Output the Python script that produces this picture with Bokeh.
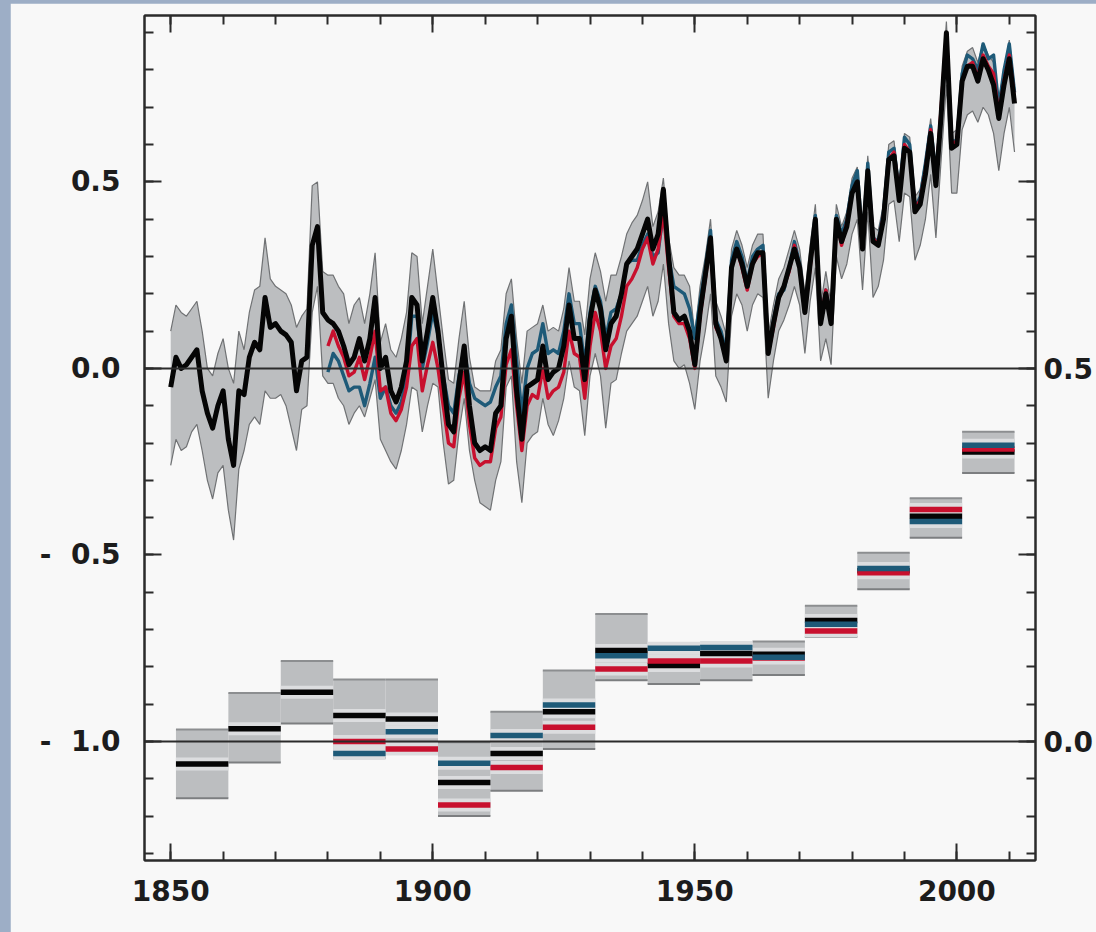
from bokeh.plotting import figure
from bokeh.models import Range1d, LinearAxis, FixedTicker, Span
from bokeh.embed import file_html
from bokeh.resources import INLINE

# ---------------- annual anomalies (left axis units) ----------------
years = list(range(1850, 2012))
black = [
    -0.05, 0.03, 0.00, 0.01, 0.03, 0.05, -0.06, -0.12, -0.16, -0.10,
    -0.06, -0.19, -0.26, -0.06, -0.07, 0.03, 0.07, 0.05, 0.19, 0.11,
    0.12, 0.10, 0.09, 0.07, -0.06, 0.02, 0.03, 0.33, 0.38, 0.15,
    0.13, 0.12, 0.10, 0.06, 0.01, 0.03, 0.08, 0.02, 0.08, 0.19,
    0.00, 0.03, -0.06, -0.09, -0.05, 0.02, 0.19, 0.17, 0.02, 0.10,
    0.19, 0.10, -0.03, -0.15, -0.17, -0.04, 0.06, -0.10, -0.20, -0.22,
    -0.21, -0.22, -0.12, -0.10, 0.08, 0.14, -0.06, -0.19, -0.05, -0.04,
    -0.03, 0.06, -0.03, -0.01, 0.00, 0.06, 0.17, 0.08, 0.08, -0.03,
    0.13, 0.21, 0.16, 0.05, 0.12, 0.14, 0.20, 0.28, 0.30, 0.32,
    0.36, 0.40, 0.32, 0.36, 0.48, 0.30, 0.15, 0.13, 0.14, 0.10,
    0.01, 0.15, 0.25, 0.35, 0.12, 0.08, 0.02, 0.27, 0.32, 0.28,
    0.22, 0.28, 0.31, 0.31, 0.04, 0.12, 0.19, 0.22, 0.27, 0.32,
    0.27, 0.15, 0.28, 0.40, 0.12, 0.20, 0.12, 0.40, 0.34, 0.38,
    0.47, 0.50, 0.32, 0.53, 0.34, 0.33, 0.40, 0.56, 0.57, 0.45,
    0.59, 0.58, 0.42, 0.44, 0.52, 0.63, 0.49, 0.68, 0.90, 0.59,
    0.60, 0.77, 0.81, 0.81, 0.77, 0.83, 0.80, 0.76, 0.67, 0.76,
    0.83, 0.71,
]
upper = [
    0.10, 0.17, 0.15, 0.14, 0.16, 0.18, 0.10, 0.00, -0.02, 0.04,
    0.08, 0.00, -0.04, 0.10, 0.05, 0.15, 0.21, 0.22, 0.35, 0.24,
    0.22, 0.21, 0.20, 0.17, 0.11, 0.14, 0.16, 0.49, 0.50, 0.26,
    0.25, 0.25, 0.22, 0.20, 0.12, 0.17, 0.19, 0.12, 0.20, 0.31,
    0.07, 0.12, 0.05, 0.03, 0.08, 0.15, 0.31, 0.30, 0.12, 0.22,
    0.32, 0.20, 0.08, -0.03, -0.04, 0.08, 0.18, 0.03, -0.05, -0.06,
    -0.06, -0.06, 0.02, 0.05, 0.20, 0.24, 0.08, -0.04, 0.10, 0.11,
    0.12, 0.17, 0.10, 0.11, 0.10, 0.16, 0.27, 0.18, 0.18, 0.09,
    0.24, 0.31, 0.26, 0.18, 0.25, 0.25, 0.30, 0.36, 0.39, 0.41,
    0.45, 0.50, 0.38, 0.42, 0.51, 0.35, 0.27, 0.25, 0.25, 0.22,
    0.09, 0.22, 0.30, 0.40, 0.18, 0.14, 0.09, 0.32, 0.37, 0.33,
    0.27, 0.33, 0.36, 0.36, 0.09, 0.17, 0.24, 0.27, 0.32, 0.37,
    0.32, 0.20, 0.33, 0.44, 0.17, 0.26, 0.17, 0.44, 0.38, 0.42,
    0.51, 0.54, 0.36, 0.57, 0.38, 0.37, 0.44, 0.60, 0.61, 0.49,
    0.63, 0.62, 0.46, 0.48, 0.56, 0.67, 0.53, 0.72, 0.93, 0.63,
    0.64, 0.81, 0.85, 0.86, 0.82, 0.87, 0.84, 0.82, 0.72, 0.80,
    0.88, 0.76,
]
lower = [
    -0.26, -0.19, -0.22, -0.21, -0.17, -0.15, -0.22, -0.30, -0.35, -0.28,
    -0.26, -0.38, -0.46, -0.27, -0.22, -0.15, -0.13, -0.15, -0.06, -0.08,
    -0.08, -0.07, -0.10, -0.16, -0.22, -0.11, -0.10, 0.15, 0.22, -0.02,
    -0.04, -0.04, -0.08, -0.10, -0.15, -0.12, -0.10, -0.13, -0.08, -0.03,
    -0.19, -0.22, -0.25, -0.27, -0.22, -0.15, -0.05, -0.06, -0.17, -0.10,
    -0.04, -0.05, -0.20, -0.31, -0.30, -0.17, -0.08, -0.22, -0.30, -0.36,
    -0.37, -0.38, -0.30, -0.25, -0.05, -0.02, -0.25, -0.36, -0.20, -0.18,
    -0.17, -0.08, -0.15, -0.18, -0.14, -0.08, 0.02, -0.05, -0.06, -0.18,
    -0.02, 0.04, -0.02, -0.16, -0.04, -0.03, 0.04, 0.10, 0.12, 0.14,
    0.18, 0.22, 0.14, 0.18, 0.28, 0.12, 0.02, 0.00, 0.01, -0.04,
    -0.11, 0.02, 0.10, 0.20, -0.02, -0.05, -0.09, 0.14, 0.20, 0.17,
    0.10, 0.17, 0.20, 0.19, -0.08, 0.02, 0.10, 0.13, 0.17, 0.22,
    0.17, 0.04, 0.18, 0.27, 0.02, 0.08, 0.01, 0.30, 0.24, 0.28,
    0.36, 0.40, 0.21, 0.42, 0.19, 0.22, 0.29, 0.44, 0.45, 0.34,
    0.47, 0.46, 0.29, 0.33, 0.40, 0.52, 0.35, 0.56, 0.76, 0.47,
    0.47, 0.64, 0.68, 0.69, 0.66, 0.70, 0.68, 0.63, 0.53, 0.63,
    0.70, 0.58,
]
years_b = list(range(1880, 2012))
red = [
    0.06, 0.10, 0.06, 0.03, -0.02, -0.01, 0.03, -0.03, 0.03, 0.10,
    -0.06, -0.05, -0.12, -0.14, -0.11, -0.05, 0.06, 0.08, -0.06, 0.01,
    0.07, 0.00, -0.10, -0.20, -0.21, -0.08, -0.01, -0.15, -0.24, -0.26,
    -0.25, -0.25, -0.16, -0.13, 0.01, 0.05, -0.10, -0.22, -0.10, -0.07,
    -0.08, 0.00, -0.08, -0.06, -0.05, -0.01, 0.10, 0.04, 0.03, -0.08,
    0.06, 0.15, 0.10, 0.00, 0.06, 0.08, 0.14, 0.22, 0.24, 0.27,
    0.32, 0.35, 0.28, 0.32, 0.42, 0.27, 0.14, 0.12, 0.12, 0.08,
    0.00, 0.14, 0.24, 0.34, 0.11, 0.08, 0.02, 0.27, 0.32, 0.27,
    0.21, 0.28, 0.30, 0.31, 0.04, 0.11, 0.19, 0.22, 0.26, 0.33,
    0.27, 0.15, 0.27, 0.40, 0.13, 0.21, 0.12, 0.40, 0.33, 0.39,
    0.47, 0.49, 0.33, 0.53, 0.35, 0.33, 0.41, 0.56, 0.58, 0.46,
    0.60, 0.58, 0.43, 0.45, 0.53, 0.64, 0.50, 0.70, 0.90, 0.60,
    0.61, 0.77, 0.81, 0.82, 0.78, 0.84, 0.81, 0.79, 0.68, 0.77,
    0.84, 0.72,
]
blue = [
    -0.01, 0.04, 0.02, -0.02, -0.06, -0.05, -0.05, -0.10, -0.04, 0.03,
    -0.08, -0.05, -0.10, -0.12, -0.09, -0.03, 0.14, 0.14, 0.00, 0.07,
    0.15, 0.09, -0.02, -0.10, -0.12, -0.02, 0.05, -0.04, -0.08, -0.09,
    -0.10, -0.09, -0.05, -0.02, 0.12, 0.17, 0.02, -0.12, 0.00, 0.04,
    0.05, 0.12, 0.04, 0.05, 0.04, 0.10, 0.20, 0.12, 0.12, 0.01,
    0.15, 0.22, 0.18, 0.08, 0.15, 0.16, 0.20, 0.28, 0.29, 0.29,
    0.33, 0.36, 0.30, 0.31, 0.42, 0.30, 0.22, 0.21, 0.20, 0.16,
    0.08, 0.18, 0.27, 0.37, 0.13, 0.10, 0.04, 0.29, 0.34, 0.30,
    0.23, 0.30, 0.32, 0.33, 0.05, 0.13, 0.20, 0.21, 0.27, 0.34,
    0.28, 0.16, 0.28, 0.41, 0.13, 0.21, 0.13, 0.41, 0.36, 0.40,
    0.49, 0.53, 0.34, 0.55, 0.35, 0.34, 0.42, 0.58, 0.59, 0.47,
    0.62, 0.60, 0.43, 0.46, 0.55, 0.65, 0.52, 0.68, 0.89, 0.61,
    0.61, 0.79, 0.84, 0.83, 0.80, 0.87, 0.83, 0.84, 0.70, 0.80,
    0.87, 0.74,
]
assert len(black) == len(years) == len(upper) == len(lower)
assert len(red) == len(years_b) == len(blue)

# ---------------- decadal means (right axis units) ----------------
decades = list(range(1850, 2010, 10))
dec_top = [0.016, 0.065, 0.108, 0.083, 0.083, -0.001, 0.040, 0.095,
           0.171, 0.128, 0.128, 0.134, 0.182, 0.253, 0.326, 0.415]
dec_bottom = [-0.076, -0.028, 0.024, -0.022, -0.016, -0.100, -0.066, -0.010,
              0.082, 0.077, 0.082, 0.089, 0.140, 0.204, 0.273, 0.360]
dec_black = [-0.030, 0.017, 0.066, 0.035, 0.030, -0.055, -0.016, 0.040,
             0.122, 0.102, 0.118, 0.117, 0.162, 0.229, 0.302, 0.388]
dec_red = [None, None, None, 0.000, -0.010, -0.085, -0.035, 0.019,
           0.097, 0.108, 0.108, 0.112, 0.148, 0.226, 0.311, 0.392]
dec_blue = [None, None, None, -0.016, 0.013, -0.029, 0.008, 0.049,
            0.115, 0.125, 0.126, 0.113, 0.157, 0.232, 0.295, 0.397]

# tick labels
x_major = [1850, 1900, 1950, 2000]
y_major = [-1.0, -0.5, 0.0, 0.5]
y_labels = ["-\u00a0\u00a01.0", "-\u00a0\u00a00.5", "0.0", "0.5"]
r_major = [0.0, 0.25, 0.5, 0.75]
r_labels = ["0.0", "", "0.5", ""]

BG = "#F8F8F8"
AX = "#2B2B2B"
C_BLACK = "#050505"
C_RED = "#C8102E"
C_BLUE = "#1E5A78"
C_BAND = "#BCBEC0"
C_HALO = "#DCDDDF"

p = figure(width=1086, height=929,
           x_range=Range1d(1845, 2015), y_range=Range1d(-1.319, 0.946),
           output_backend="svg", toolbar_location=None,
           background_fill_color=BG, border_fill_color=BG,
           min_border_left=134, min_border_right=61,
           min_border_top=12, min_border_bottom=72,
           x_axis_location=None, y_axis_location=None)
p.extra_y_ranges = {"dec": Range1d((-1.319 + 1) / 2, (0.946 + 1) / 2)}
p.grid.visible = False
p.outline_line_color = AX
p.outline_line_width = 2

FONT = "DejaVu Sans"

def style_axis(ax):
    ax.axis_line_color = AX
    ax.axis_line_width = 2
    ax.major_tick_line_color = AX
    ax.major_tick_line_width = 2
    ax.minor_tick_line_color = AX
    ax.minor_tick_line_width = 2
    ax.major_tick_out = 0
    ax.minor_tick_out = 0
    ax.major_tick_in = 17
    ax.minor_tick_in = 9
    ax.major_label_text_font = FONT
    ax.major_label_text_font_style = "bold"
    ax.major_label_text_color = "#1C1C1C"
    ax.major_label_text_font_size = "28px"

x_minor = list(range(1850, 2020, 10))
bottom = LinearAxis(ticker=FixedTicker(ticks=x_major, minor_ticks=x_minor))
style_axis(bottom)
bottom.major_label_standoff = 19
p.add_layout(bottom, "below")

top = LinearAxis(ticker=FixedTicker(ticks=x_major, minor_ticks=x_minor))
style_axis(top)
top.major_label_overrides = {t: "" for t in x_major}
top.major_label_text_font_size = "2px"
top.major_label_standoff = 0
p.add_layout(top, "above")

y_minor = [round(-1.3 + 0.1 * i, 1) for i in range(23)]
left = LinearAxis(ticker=FixedTicker(ticks=y_major, minor_ticks=y_minor))
style_axis(left)
left.major_label_standoff = 24
left.major_label_overrides = dict(zip(y_major, y_labels))
p.add_layout(left, "left")

r_minor = [round(-0.15 + 0.05 * i, 2) for i in range(23)]
right = LinearAxis(y_range_name="dec",
                   ticker=FixedTicker(ticks=r_major, minor_ticks=r_minor))
style_axis(right)
right.major_label_standoff = 8
right.major_label_overrides = dict(zip(r_major, r_labels))
p.add_layout(right, "right")

# reference lines
p.add_layout(Span(location=0.0, dimension="width", line_color=AX, line_width=2))
p.add_layout(Span(location=-1.0, dimension="width", line_color=AX, line_width=2))

# ---------------- annual panel ----------------
p.varea(x=years, y1=lower, y2=upper, fill_color=C_BAND, fill_alpha=1.0)
p.line(years, upper, line_color="#707274", line_width=1.2)
p.line(years, lower, line_color="#707274", line_width=1.2)
p.line(years_b, blue, line_color=C_BLUE, line_width=3.4, line_join="round")
p.line(years_b, red, line_color=C_RED, line_width=3.4, line_join="round")
p.line(years, black, line_color=C_BLACK, line_width=5, line_join="round")

# ---------------- decadal panel ----------------
d_left = [d + 1 for d in decades]
d_right = [d + 11 for d in decades]
p.quad(left=d_left, right=d_right, bottom=dec_bottom, top=dec_top,
       fill_color=C_BAND, line_color=None, y_range_name="dec")
p.segment(x0=d_left, x1=d_right, y0=dec_top, y1=dec_top,
          line_color="#8C8E90", line_width=2, y_range_name="dec")
p.segment(x0=d_left, x1=d_right, y0=dec_bottom, y1=dec_bottom,
          line_color="#7C7E80", line_width=2, y_range_name="dec")

series = [(dec_black, C_BLACK), (dec_red, C_RED), (dec_blue, C_BLUE)]
for vals, col in series:
    xs0 = [a for a, v in zip(d_left, vals) if v is not None]
    xs1 = [b for b, v in zip(d_right, vals) if v is not None]
    vv = [v for v in vals if v is not None]
    p.segment(x0=xs0, x1=xs1, y0=vv, y1=vv, line_color=C_HALO,
              line_width=13, line_cap="butt", y_range_name="dec")
for vals, col in series:
    xs0 = [a for a, v in zip(d_left, vals) if v is not None]
    xs1 = [b for b, v in zip(d_right, vals) if v is not None]
    vv = [v for v in vals if v is not None]
    p.segment(x0=xs0, x1=xs1, y0=vv, y1=vv, line_color=col,
              line_width=5.5, line_cap="butt", y_range_name="dec")

html = file_html(p, INLINE, title="Temperature anomalies")
page_style = ("<style>html,body{margin:0 !important;}"
              "body{padding:3px 0 0 10px !important;box-sizing:border-box;"
              "background:#9DAEC6 !important;overflow:hidden;}</style>")
html = html.replace("</head>", page_style + "</head>", 1)
open("out.html", "w").write(html)
